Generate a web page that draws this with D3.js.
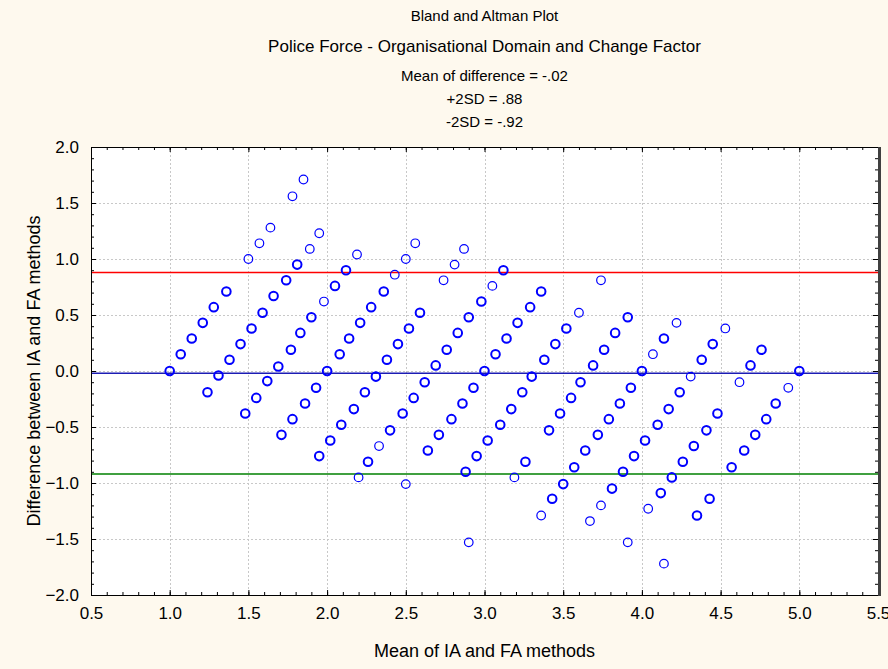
<!DOCTYPE html>
<html>
<head>
<meta charset="utf-8">
<title>Bland and Altman Plot</title>
<style>
  body { margin: 0; background: #fef9ee; }
  svg text { font-family: "Liberation Sans", Arial, sans-serif; fill: #000; }
</style>
</head>
<body>
<script src="https://cdn.jsdelivr.net/npm/d3@7/dist/d3.min.js"></script>
<script>
var width = 888, height = 669;

var titleLines = [
    "Bland and Altman Plot",
    "Police Force - Organisational Domain and Change Factor",
    "Mean of difference = -.02",
    "+2SD = .88",
    "-2SD = -.92"
];
var xTicks = [0.5, 1.0, 1.5, 2.0, 2.5, 3.0, 3.5, 4.0, 4.5, 5.0, 5.5];
var yTicks = [-2.0, -1.5, -1.0, -0.5, 0.0, 0.5, 1.0, 1.5, 2.0];
var xLabel = "Mean of IA and FA methods";
var yLabel = "Difference between IA and FA methods";

// horizontal reference lines: mean difference, +2SD, -2SD
var refNames = ["mean", "plus2sd", "minus2sd"];
var refValues = [-0.02, 0.88, -0.92];

// mean of the two methods (x) and their difference (y), one entry per plotted circle
var meanVals = [
    1.85, 1.78, 1.64, 1.57, 1.50, 1.95, 1.89, 1.81, 1.74, 1.66, 1.59, 1.52, 1.45, 1.38,
    1.31, 1.00, 1.36, 1.28, 1.21, 1.14, 1.07, 1.98, 1.90, 1.83, 1.77, 1.69, 1.62, 2.00,
    1.24, 1.55, 1.48, 1.93, 1.86, 1.78, 1.71, 1.95,
    2.19, 2.12, 2.05, 2.56, 2.50, 2.43, 2.36, 2.28, 2.21, 2.14, 2.08, 2.87, 2.81, 2.74,
    3.05, 2.98, 2.90, 2.83, 2.76, 2.69, 2.59, 2.52, 2.45, 2.38, 2.31, 3.07, 3.00, 2.62,
    2.93, 2.24, 2.55, 2.86, 2.17, 2.48, 2.79, 2.09, 2.40, 2.71, 2.02, 2.33, 2.64, 3.02,
    2.95, 2.26, 2.20, 2.50, 2.88, 2.90,
    3.12, 3.36, 3.29, 3.21, 3.14, 3.74, 3.60, 3.52, 3.45, 3.38, 3.30, 3.91, 3.83, 3.76,
    3.69, 3.61, 4.00, 4.07,
    3.93, 3.24, 3.55, 3.86, 3.17, 3.48, 3.79, 3.10, 3.41, 3.72, 3.64, 3.26, 3.57, 3.95,
    3.19, 3.50, 3.88, 3.43, 3.36, 3.81, 3.74, 3.67, 3.91,
    4.14, 4.22, 4.31, 4.38, 4.45, 4.53, 4.62, 4.69, 4.76, 5.00,
    4.93, 4.24, 4.85, 4.17, 4.48, 4.79, 4.10, 4.41, 4.72, 4.02, 4.33, 4.65, 4.26, 4.57,
    4.19, 4.12, 4.04, 4.43, 4.35, 4.14
];
var diffVals = [
    1.71, 1.56, 1.28, 1.14, 1.00, 1.23, 1.09, 0.95, 0.81, 0.67, 0.52, 0.38, 0.24, 0.10,
    -0.04, 0.00, 0.71, 0.57, 0.43, 0.29, 0.15, 0.62, 0.48, 0.34, 0.19, 0.04, -0.09, 0.00,
    -0.19, -0.24, -0.38, -0.15, -0.29, -0.43, -0.57, -0.76,
    1.04, 0.90, 0.76, 1.14, 1.00, 0.86, 0.71, 0.57, 0.43, 0.29, 0.15, 1.09, 0.95, 0.81,
    0.76, 0.62, 0.48, 0.34, 0.19, 0.05, 0.52, 0.38, 0.24, 0.10, -0.05, 0.15, 0.00, -0.10,
    -0.15, -0.19, -0.24, -0.29, -0.34, -0.38, -0.43, -0.48, -0.53, -0.57, -0.62, -0.67, -0.71, -0.62,
    -0.76, -0.81, -0.95, -1.01, -0.90, -1.53,
    0.90, 0.71, 0.57, 0.43, 0.29, 0.81, 0.52, 0.38, 0.24, 0.10, -0.05, 0.48, 0.34, 0.19,
    0.05, -0.10, 0.00, 0.15,
    -0.15, -0.19, -0.24, -0.29, -0.34, -0.38, -0.43, -0.48, -0.53, -0.57, -0.71, -0.81, -0.86, -0.76,
    -0.95, -1.01, -0.90, -1.14, -1.29, -1.05, -1.20, -1.34, -1.53,
    0.29, 0.43, -0.05, 0.10, 0.24, 0.38, -0.10, 0.05, 0.19, 0.00,
    -0.15, -0.19, -0.29, -0.34, -0.38, -0.43, -0.48, -0.53, -0.57, -0.62, -0.67, -0.71, -0.81, -0.86,
    -0.95, -1.09, -1.23, -1.14, -1.29, -1.72
];
// 1 = a single case, 2 = several cases on the same spot (drawn bolder)
var caseCount = [
    1, 1, 1, 1, 1, 1, 1, 2, 2, 2, 2, 2, 2, 2,
    2, 2, 2, 2, 2, 2, 2, 1, 2, 2, 2, 2, 2, 2,
    2, 2, 2, 2, 2, 2, 2, 2,
    1, 2, 2, 1, 1, 1, 2, 2, 2, 2, 2, 1, 1, 1,
    1, 2, 2, 2, 2, 2, 2, 2, 2, 2, 2, 2, 2, 2,
    2, 2, 2, 2, 2, 2, 2, 2, 2, 2, 2, 1, 2, 2,
    2, 2, 1, 1, 2, 1,
    2, 2, 2, 2, 2, 1, 1, 2, 2, 2, 2, 2, 2, 2,
    2, 2, 2, 1,
    2, 2, 2, 2, 2, 2, 2, 2, 2, 2, 2, 2, 2, 2,
    1, 2, 2, 2, 1, 2, 1, 1, 1,
    2, 1, 1, 2, 2, 1, 1, 2, 2, 2,
    1, 2, 2, 2, 2, 2, 2, 2, 2, 2, 2, 2, 2, 2,
    2, 2, 1, 2, 2, 1
];

var points = meanVals.map(function (m, i) {
    return { mean: m, diff: diffVals[i], n: caseCount[i] };
});

var svg = d3.select("body").append("svg")
    .attr("width", width)
    .attr("height", height);

svg.append("rect")
    .attr("width", width).attr("height", height)
    .attr("fill", "#fef9ee");

var margin = { left: 91, top: 147, right: 10, bottom: 74 };
var x = d3.scaleLinear().domain([0.5, 5.5]).range([margin.left, width - margin.right]);
var y = d3.scaleLinear().domain([-2, 2]).range([height - margin.bottom, margin.top]);
var x0 = x.range()[0], x1 = x.range()[1], y0 = y.range()[1], y1 = y.range()[0];

// plot area
svg.append("rect")
    .attr("x", x0).attr("y", y0)
    .attr("width", x1 - x0).attr("height", y1 - y0)
    .attr("fill", "#ffffff");

// dashed grid at the major ticks
var grid = svg.append("g").attr("stroke", "#c8c8c8").attr("stroke-dasharray", "2,2").attr("stroke-width", 1);
grid.selectAll("line.gx")
    .data(xTicks.slice(1, -1))
    .enter().append("line")
    .attr("x1", d => Math.round(x(d)) + 0.5).attr("x2", d => Math.round(x(d)) + 0.5)
    .attr("y1", y0).attr("y2", y1);
grid.selectAll("line.gy")
    .data(yTicks.slice(1, -1))
    .enter().append("line")
    .attr("x1", x0).attr("x2", x1)
    .attr("y1", d => Math.round(y(d)) + 0.5).attr("y2", d => Math.round(y(d)) + 0.5);

// reference lines
var refColors = { mean: "#1c1cb4", plus2sd: "#ff0000", minus2sd: "#008000" };
svg.append("g").selectAll("line")
    .data(refValues)
    .enter().append("line")
    .attr("x1", x0).attr("x2", x1)
    .attr("y1", d => y(d)).attr("y2", d => y(d))
    .attr("stroke", (d, i) => refColors[refNames[i]])
    .attr("stroke-width", 1.5);

// points
svg.append("g").selectAll("circle")
    .data(points)
    .enter().append("circle")
    .attr("cx", d => x(d.mean))
    .attr("cy", d => y(d.diff))
    .attr("r", 4.3)
    .attr("fill", "none")
    .attr("stroke", "#0000ff")
    .attr("stroke-width", d => d.n > 1 ? 2 : 1.2);

// ticks on all four sides, pointing inwards
var minorX = d3.range(5, 56).map(d => d / 10);
var minorY = d3.range(-20, 21).map(d => d / 10);
var fmt = d3.format(".1f");

function tickAxis(axis, tr) {
    var g = svg.append("g").attr("transform", tr).call(axis);
    g.select(".domain").remove();
    return g;
}

var xAxis = tickAxis(d3.axisBottom(x).tickValues(xTicks).tickSize(-5).tickPadding(12).tickFormat(fmt),
    "translate(0," + y1 + ")");
xAxis.selectAll("text").attr("font-size", 17).attr("font-family", "Liberation Sans, Arial, sans-serif");
tickAxis(d3.axisBottom(x).tickValues(minorX).tickSize(-3).tickFormat(""), "translate(0," + y1 + ")");
tickAxis(d3.axisTop(x).tickValues(xTicks).tickSize(-5).tickFormat(""), "translate(0," + y0 + ")");
tickAxis(d3.axisTop(x).tickValues(minorX).tickSize(-3).tickFormat(""), "translate(0," + y0 + ")");

var yAxis = tickAxis(d3.axisLeft(y).tickValues(yTicks).tickSize(-5).tickPadding(12).tickFormat(fmt),
    "translate(" + x0 + ",0)");
yAxis.selectAll("text").attr("font-size", 17).attr("font-family", "Liberation Sans, Arial, sans-serif");
tickAxis(d3.axisLeft(y).tickValues(minorY).tickSize(-3).tickFormat(""), "translate(" + x0 + ",0)");
tickAxis(d3.axisRight(y).tickValues(yTicks).tickSize(-5).tickFormat(""), "translate(" + x1 + ",0)");
tickAxis(d3.axisRight(y).tickValues(minorY).tickSize(-3).tickFormat(""), "translate(" + x1 + ",0)");

// frame
svg.append("rect")
    .attr("x", x0 + 0.5).attr("y", y0 + 0.5)
    .attr("width", x1 - x0).attr("height", y1 - y0)
    .attr("fill", "none").attr("stroke", "#000").attr("stroke-width", 1);
svg.append("line")
    .attr("x1", x1 + 1.5).attr("x2", x1 + 1.5)
    .attr("y1", y0).attr("y2", y1 + 1)
    .attr("stroke", "#404040").attr("stroke-width", 3);

// titles
var titleY = [21, 52, 81, 104, 127];
var titleSize = [15, 17, 15, 15, 15];
svg.append("g").selectAll("text")
    .data(titleLines)
    .enter().append("text")
    .attr("x", (x0 + x1) / 2)
    .attr("y", (d, i) => titleY[i])
    .attr("text-anchor", "middle")
    .attr("font-size", (d, i) => titleSize[i])
    .text(d => d);

svg.append("text")
    .attr("x", (x0 + x1) / 2).attr("y", 657)
    .attr("text-anchor", "middle")
    .attr("font-size", 18)
    .text(xLabel);

svg.append("text")
    .attr("transform", "translate(40," + ((y0 + y1) / 2) + ") rotate(-90)")
    .attr("text-anchor", "middle")
    .attr("font-size", 18)
    .text(yLabel);
</script>
</body>
</html>
